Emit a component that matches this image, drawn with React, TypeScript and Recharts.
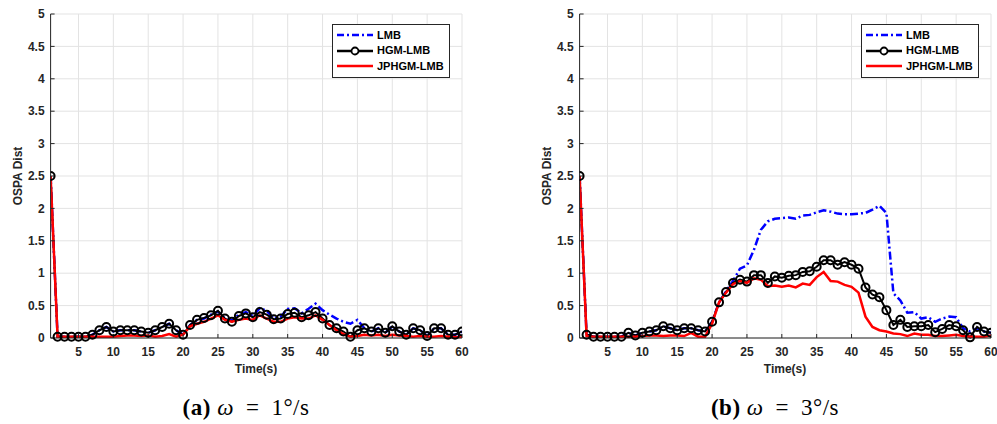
import React from 'react'
import {
  LineChart,
  Line,
  XAxis,
  YAxis,
  CartesianGrid,
  Legend,
} from 'recharts'

const time = [
  1, 2, 3, 4, 5, 6, 7, 8, 9, 10, 11, 12, 13, 14, 15, 16, 17, 18, 19, 20,
  21, 22, 23, 24, 25, 26, 27, 28, 29, 30, 31, 32, 33, 34, 35, 36, 37, 38, 39, 40,
  41, 42, 43, 44, 45, 46, 47, 48, 49, 50, 51, 52, 53, 54, 55, 56, 57, 58, 59, 60,
]

// panel (a): omega = 1 deg/s
const lmbA = [
  2.5, 0.02, 0.02, 0.02, 0.02, 0.02, 0.05, 0.12, 0.17, 0.1, 0.12, 0.12, 0.12, 0.1, 0.08, 0.12, 0.17, 0.22, 0.12, 0.05,
  0.2, 0.28, 0.3, 0.36, 0.41, 0.3, 0.27, 0.36, 0.4, 0.34, 0.46, 0.42, 0.3, 0.33, 0.45, 0.46, 0.38, 0.45, 0.53, 0.43,
  0.36, 0.3, 0.25, 0.22, 0.28, 0.15, 0.1, 0.15, 0.08, 0.18, 0.1, 0.05, 0.15, 0.12, 0.03, 0.15, 0.15, 0.05, 0.05, 0.1,
]
const hgmA = [
  2.5, 0.02, 0.02, 0.02, 0.02, 0.02, 0.05, 0.12, 0.17, 0.1, 0.12, 0.12, 0.12, 0.1, 0.08, 0.12, 0.17, 0.22, 0.12, 0.05,
  0.2, 0.28, 0.31, 0.35, 0.42, 0.3, 0.25, 0.34, 0.38, 0.32, 0.4, 0.36, 0.29, 0.3, 0.37, 0.39, 0.32, 0.35, 0.4, 0.3,
  0.2, 0.15, 0.1, 0.02, 0.12, 0.15, 0.1, 0.15, 0.08, 0.18, 0.1, 0.05, 0.15, 0.12, 0.03, 0.15, 0.15, 0.05, 0.05, 0.1,
]
const jpA = [
  2.5, 0.02, 0.02, 0.02, 0.02, 0.02, 0.02, 0.02, 0.02, 0.02, 0.03, 0.04, 0.04, 0.03, 0.04, 0.02, 0.03, 0.06, 0.02, 0.05,
  0.18, 0.22, 0.25, 0.3, 0.35, 0.28, 0.25, 0.28, 0.3, 0.28, 0.35, 0.3, 0.25, 0.25, 0.3, 0.32, 0.3, 0.3, 0.35, 0.28,
  0.2, 0.12, 0.06, 0.02, 0.03, 0.05, 0.04, 0.05, 0.03, 0.05, 0.04, 0.03, 0.02, 0.03, 0.02, 0.02, 0.03, 0.02, 0.01, 0.02,
]

// panel (b): omega = 3 deg/s
const lmbB = [
  2.5, 0.05, 0.02, 0.02, 0.02, 0.02, 0.02, 0.08, 0.04, 0.08, 0.1, 0.12, 0.18, 0.15, 0.12, 0.15, 0.15, 0.12, 0.1, 0.25,
  0.55, 0.72, 0.88, 1.07, 1.12, 1.36, 1.67, 1.8, 1.84, 1.85, 1.86, 1.84, 1.89, 1.9, 1.94, 1.97, 1.95, 1.92, 1.91, 1.91,
  1.92, 1.93, 1.98, 2.04, 1.93, 0.69, 0.58, 0.39, 0.4, 0.3, 0.32, 0.25, 0.3, 0.33, 0.32, 0.15, 0.1, 0.15, 0.1, 0.08,
]
const hgmB = [
  2.5, 0.05, 0.02, 0.02, 0.02, 0.02, 0.02, 0.08, 0.04, 0.08, 0.1, 0.12, 0.18, 0.15, 0.12, 0.15, 0.15, 0.12, 0.1, 0.25,
  0.55, 0.71, 0.85, 0.9, 0.87, 0.97, 0.97, 0.85, 0.95, 0.93, 0.96, 0.97, 1.02, 1.03, 1.1, 1.2, 1.2, 1.13, 1.17, 1.13,
  1.07, 0.78, 0.67, 0.63, 0.43, 0.2, 0.28, 0.17, 0.18, 0.18, 0.2, 0.09, 0.14, 0.2, 0.18, 0.12, 0.01, 0.17, 0.1, 0.08,
]
const jpB = [
  2.5, 0.03, 0.02, 0.02, 0.02, 0.02, 0.02, 0.02, 0.02, 0.03, 0.04, 0.04, 0.03, 0.04, 0.04, 0.03, 0.08, 0.02, 0.02, 0.22,
  0.55, 0.7, 0.83, 0.88, 0.85, 0.92, 0.9, 0.8, 0.81, 0.79, 0.81, 0.78, 0.84, 0.82, 0.94, 1.02, 0.88, 0.87, 0.82, 0.79,
  0.7, 0.33, 0.17, 0.12, 0.1, 0.07, 0.06, 0.03, 0.07, 0.05, 0.05, 0.03, 0.03, 0.04, 0.05, 0.03, 0.02, 0.02, 0.02, 0.04,
]

const xTicks = [5, 10, 15, 20, 25, 30, 35, 40, 45, 50, 55, 60]
const yTicks = [0, 0.5, 1, 1.5, 2, 2.5, 3, 3.5, 4, 4.5, 5]
const seriesNames = ['LMB', 'HGM-LMB', 'JPHGM-LMB']

const FONT = '"Liberation Sans", Arial, Helvetica, sans-serif'
const INK = '#262626'

const buildRows = (a: number[], b: number[], c: number[]) =>
  time.map((t, i) => ({ t, lmb: a[i], hgm: b[i], jp: c[i] }))

const LegendBox = () => (
  <div
    style={{
      border: `1px solid ${INK}`,
      background: '#fff',
      padding: '3px 4px 3px 3px',
      fontFamily: FONT,
      fontWeight: 700,
      fontSize: 11,
      color: '#000',
      lineHeight: '15px',
      boxSizing: 'border-box',
    }}
  >
    {seriesNames.map((name, i) => (
      <div key={name} style={{ display: 'flex', alignItems: 'center', height: 15.5 }}>
        <svg width={38} height={10} style={{ marginRight: 3 }}>
          {i === 0 && (
            <line x1={1} y1={5} x2={37} y2={5} stroke="#0000ff" strokeWidth={2.5} strokeDasharray="7 3 2 3" />
          )}
          {i === 1 && (
            <>
              <line x1={1} y1={5} x2={37} y2={5} stroke="#000" strokeWidth={2.5} />
              <circle cx={19} cy={5} r={3.5} stroke="#000" strokeWidth={1.8} fill="#fff" />
            </>
          )}
          {i === 2 && <line x1={1} y1={5} x2={37} y2={5} stroke="#ff0000" strokeWidth={2.5} />}
        </svg>
        <span>{name}</span>
      </div>
    ))}
  </div>
)

interface PanelProps {
  left: number
  lmb: number[]
  hgm: number[]
  jp: number[]
  tag: string
  rate: string
}

const Panel: React.FC<PanelProps> = ({ left, lmb, hgm, jp, tag, rate }) => {
  const rows = buildRows(lmb, hgm, jp)
  return (
    <div style={{ position: 'absolute', left, top: 0, width: 480, height: 424 }}>
      <LineChart
        width={480}
        height={390}
        data={rows}
        margin={{ top: 14, right: 18, bottom: 22, left: 10.6 }}
      >
        <CartesianGrid stroke="#e3e3e3" strokeWidth={1} />
        <XAxis
          dataKey="t"
          type="number"
          domain={[1, 60]}
          ticks={xTicks}
          allowDataOverflow
          height={30}
          tickSize={-4}
          tickMargin={13}
          axisLine={{ stroke: INK }}
          tickLine={{ stroke: INK }}
          tick={{ fill: INK, fontFamily: FONT, fontWeight: 700, fontSize: 12 }}
        />
        <XAxis
          xAxisId="top"
          orientation="top"
          type="number"
          domain={[1, 60]}
          ticks={xTicks}
          height={0}
          tickSize={-4}
          tickFormatter={() => ''}
          axisLine={{ stroke: INK }}
          tickLine={{ stroke: INK }}
        />
        <YAxis
          type="number"
          domain={[0, 5]}
          ticks={yTicks}
          width={40}
          tickSize={-4}
          tickMargin={10}
          axisLine={{ stroke: INK }}
          tickLine={{ stroke: INK }}
          tick={{ fill: INK, fontFamily: FONT, fontWeight: 700, fontSize: 12 }}
          label={{
            value: 'OSPA Dist',
            angle: -90,
            position: 'insideLeft',
            offset: 7.5,
            style: { fill: INK, fontFamily: FONT, fontWeight: 700, fontSize: 12, textAnchor: 'middle' },
          }}
        />
        <YAxis
          yAxisId="right"
          orientation="right"
          type="number"
          domain={[0, 5]}
          ticks={yTicks}
          width={0}
          tickSize={-4}
          tickFormatter={() => ''}
          axisLine={{ stroke: INK }}
          tickLine={{ stroke: INK }}
        />
        <Legend
          layout="vertical"
          align="center"
          verticalAlign="middle"
          content={() => <LegendBox />}
          wrapperStyle={{ left: 332, top: 23.5, width: 118, height: 51 }}
        />
        <Line
          dataKey="lmb"
          name={seriesNames[0]}
          type="linear"
          stroke="#0000ff"
          strokeWidth={2.5}
          strokeDasharray="8 3 2 3"
          dot={false}
          isAnimationActive={false}
        />
        <Line
          dataKey="hgm"
          name={seriesNames[1]}
          type="linear"
          stroke="#000"
          strokeWidth={2}
          dot={{ r: 4, stroke: '#000', strokeWidth: 2, fill: 'none' }}
          isAnimationActive={false}
        />
        <Line
          dataKey="jp"
          name={seriesNames[2]}
          type="linear"
          stroke="#ff0000"
          strokeWidth={2.5}
          dot={false}
          isAnimationActive={false}
        />
      </LineChart>
      <div
        style={{
          position: 'absolute',
          left: 206,
          top: 362,
          width: 100,
          textAlign: 'center',
          fontFamily: FONT,
          fontWeight: 700,
          fontSize: 12,
          color: INK,
        }}
      >
        Time(s)
      </div>
      <div
        style={{
          position: 'absolute',
          left: 136,
          top: 395,
          width: 220,
          textAlign: 'center',
          fontFamily: '"Liberation Serif", "DejaVu Serif", serif',
          fontSize: 23,
          letterSpacing: 0.5,
          color: '#000',
          whiteSpace: 'pre',
        }}
      >
        <b>({tag})</b> <i>ω</i>{'\u2002=\u2002'}{rate}
      </div>
    </div>
  )
}

export default function App() {
  return (
    <div style={{ position: 'absolute', left: 0, top: 0, width: 997, height: 424, background: '#fff', overflow: 'hidden' }}>
      <Panel left={0} lmb={lmbA} hgm={hgmA} jp={jpA} tag="a" rate="1°/s" />
      <Panel left={529} lmb={lmbB} hgm={hgmB} jp={jpB} tag="b" rate="3°/s" />
    </div>
  )
}
